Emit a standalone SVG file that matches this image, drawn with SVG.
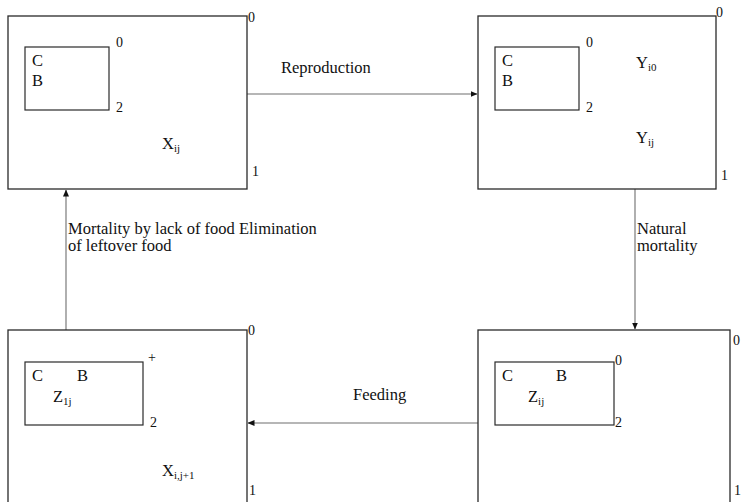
<svg xmlns="http://www.w3.org/2000/svg" width="742" height="502" viewBox="0 0 742 502">
<defs>
<style>
.box{fill:none;stroke:#2a2a2a;stroke-width:1.3}
.inner{fill:none;stroke:#2a2a2a;stroke-width:1.2}
.conn{fill:none;stroke:#6e6e6e;stroke-width:1.1}
text{font-family:'Liberation Serif','Times New Roman',serif;fill:#111}
.t{font-size:16.5px}
.n{font-size:14px}
.s{font-size:11px}
</style>
<marker id="ah" markerWidth="7" markerHeight="6" refX="6.5" refY="3" orient="auto" markerUnits="userSpaceOnUse">
<path d="M0,0 L7,3 L0,6 Z" fill="#111"/>
</marker>
</defs>
<rect width="742" height="502" fill="#fff"/>

<g id="connectors">
<line class="conn" x1="247" y1="94" x2="477" y2="94" marker-end="url(#ah)"/>
<line class="conn" x1="635" y1="189" x2="635" y2="329" marker-end="url(#ah)"/>
<line class="conn" x1="478" y1="423" x2="248" y2="423" marker-end="url(#ah)"/>
<line class="conn" x1="66" y1="330" x2="66" y2="190" marker-end="url(#ah)"/>
<text class="t" x="281" y="73">Reproduction</text>
<text class="t" x="637" y="234">Natural<tspan x="637" dy="17">mortality</tspan></text>
<text class="t" x="353" y="400">Feeding</text>
<text class="t" x="68" y="234">Mortality by lack of food Elimination<tspan x="68" dy="17">of leftover food</tspan></text>
</g>

<g id="node-x">
<rect class="box" x="8" y="16" width="239" height="173"/>
<rect class="inner" x="25" y="47" width="84" height="63"/>
<text class="n" x="248" y="22">0</text>
<text class="n" x="116" y="47">0</text>
<text class="n" x="116" y="112">2</text>
<text class="n" x="252" y="176">1</text>
<text class="t" x="32" y="66">C</text>
<text class="t" x="32" y="86">B</text>
<text class="t" x="162" y="149">X<tspan class="s" dy="3">ij</tspan></text>
</g>

<g id="node-y">
<rect class="box" x="478" y="16" width="238" height="173"/>
<rect class="inner" x="495" y="47" width="84" height="63"/>
<text class="n" x="716" y="17">0</text>
<text class="n" x="586" y="47">0</text>
<text class="n" x="586" y="112">2</text>
<text class="n" x="721" y="180">1</text>
<text class="t" x="502" y="66">C</text>
<text class="t" x="502" y="86">B</text>
<text class="t" x="636" y="68">Y<tspan class="s" dy="3">i0</tspan></text>
<text class="t" x="636" y="143">Y<tspan class="s" dy="3">ij</tspan></text>
</g>

<g id="node-z">
<rect class="box" x="478" y="330" width="252" height="180"/>
<rect class="inner" x="495" y="362" width="119" height="63"/>
<text class="n" x="733" y="345">0</text>
<text class="n" x="615" y="365">0</text>
<text class="n" x="615" y="427">2</text>
<text class="n" x="734" y="495">1</text>
<text class="t" x="502" y="381">C</text>
<text class="t" x="556" y="381">B</text>
<text class="t" x="528" y="402">Z<tspan class="s" dy="3">ij</tspan></text>
</g>

<g id="node-x-next">
<rect class="box" x="8" y="330" width="239" height="180"/>
<rect class="inner" x="25" y="362" width="118" height="63"/>
<text class="n" x="248" y="335">0</text>
<text class="n" x="148" y="362">+</text>
<text class="n" x="150" y="427">2</text>
<text class="n" x="249" y="495">1</text>
<text class="t" x="32" y="381">C</text>
<text class="t" x="77" y="381">B</text>
<text class="t" x="53" y="402">Z<tspan class="s" dy="3">1j</tspan></text>
<text class="t" x="162" y="476">X<tspan class="s" dy="3">i,j+1</tspan></text>
</g>
</svg>
